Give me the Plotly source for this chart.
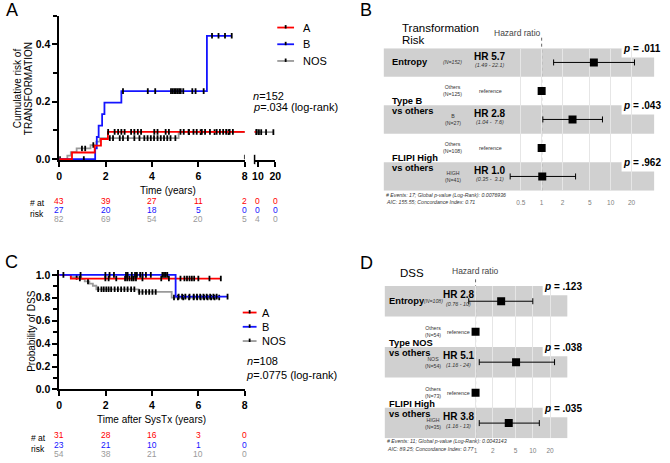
import numpy as np
import plotly.graph_objects as go

W, H = 670, 463
FONT = "Liberation Sans, Arial, Helvetica, sans-serif"
RED, BLUE, GREY = "#ff0000", "#1414ff", "#9a9a9a"

# ---------------- Panel A : cumulative risk of transformation ----------------
a_A_t = [0, 0.55, 1.53, 1.8, 2.1]
a_A_v = [0, 0.023, 0.047, 0.070, 0.095]
a_A_end = 9.3
a_A_cens = [2.11, 2.39, 2.54, 2.68, 2.82, 3.1, 3.24, 3.39, 3.53, 4.1, 4.24, 4.59, 4.73,
            5.23, 5.37, 5.58, 5.79, 5.93, 6.15, 6.29, 6.5, 6.79, 6.93, 7.07, 7.2, 7.35, 7.49, 9.3]
a_B_t = [0, 1.55, 1.62, 1.7, 1.85, 1.95, 2.68, 6.37]
a_B_v = [0, 0.037, 0.077, 0.117, 0.157, 0.197, 0.237, 0.43]
a_B_end = 7.44
a_B_cens = [1.06, 2.75, 3.82, 4.14, 4.82, 4.89, 4.96, 5.03, 5.1, 5.17, 5.24, 5.35, 5.74,
            5.88, 6.23, 6.59, 6.87, 7.15, 7.44]
a_N_t = [0, 0.35, 0.5, 0.75, 1.35, 1.6, 1.75, 5.15]
a_N_v = [0, 0.012, 0.024, 0.037, 0.049, 0.061, 0.073, 0.094]
a_N_end = 18.9
a_N_cens = [0.03, 0.98, 1.12, 1.47, 2.18, 2.32, 2.61, 2.75, 2.96, 3.24, 3.46, 3.67, 3.81,
            3.95, 4.09, 4.24, 4.38, 4.52, 4.66, 4.8, 5.01, 5.6, 6.1, 6.7, 7.3, 9.1, 10.6,
            11.9, 14.7, 18.9]
a_risk_times = [0, 2, 4, 6, 8, 10, 20]
a_risk_A = [43, 39, 27, 11, 2, 0, 0]
a_risk_B = [27, 20, 18, 5, 0, 0, 0]
a_risk_N = [82, 69, 54, 20, 5, 4, 0]

# ---------------- Panel C : disease specific survival ----------------
c_A_t = [0, 0.5]
c_A_v = [1.0, 0.968]
c_A_end = 6.97
c_A_cens = [0.89, 1.99, 2.13, 2.46, 2.84, 2.93, 3.03, 3.13, 3.21, 3.31, 3.59, 4.4, 4.73,
            5.23, 5.4, 5.51, 5.62, 5.72, 5.82, 6.0, 6.48, 6.97]
c_B_t = [0, 5.02]
c_B_v = [1.0, 0.81]
c_B_end = 7.26
c_B_cens = [0.18, 0.92, 1.99, 2.17, 2.36, 2.88, 2.95, 3.13, 3.27, 3.35, 3.49, 3.59, 3.74,
            3.95, 4.45, 4.52, 4.59, 4.66, 5.15, 5.3, 5.44, 5.62, 5.8, 5.94, 6.08, 6.22,
            6.36, 6.51, 6.65, 6.79, 7.26]
c_N_t = [0, 0.5, 0.95, 1.1, 1.3, 1.45, 1.6, 3.42, 4.85]
c_N_v = [1.0, 0.981, 0.962, 0.943, 0.924, 0.905, 0.874, 0.851, 0.802]
c_N_end = 6.9
c_N_cens = [0.75, 1.24, 1.68, 1.82, 1.92, 2.03, 2.13, 2.24, 2.39, 2.53, 2.67, 2.81, 2.95,
            3.1, 3.24, 3.45, 3.59, 3.74, 3.88, 4.02, 4.16, 4.95, 5.12, 5.35, 5.6, 5.8,
            5.95, 6.1, 6.25, 6.4, 6.55, 6.7, 6.9]
c_risk_times = [0, 2, 4, 6, 8]
c_risk_A = [31, 28, 16, 3, 0]
c_risk_B = [23, 21, 10, 1, 0]
c_risk_N = [54, 38, 21, 10, 0]

group_names = ["A", "B", "NOS"]
group_colors = [RED, BLUE, GREY]

# ---------------- Panel B : Cox model, transformation ----------------
b_vars = ["Entropy", "Type B|vs others", "FLIPI High|vs others"]
b_levels = ["", "Others", "B", "Others", "HIGH"]
b_ns = ["(N=152)", "(N=125)", "(N=27)", "(N=108)", "(N=41)"]
b_hr = [5.7, 2.8, 1.02]
b_hr_txt = ["HR 5.7", "HR 2.8", "HR 1.0"]
b_lo = [1.49, 1.04, 0.35]
b_hi = [22.1, 7.6, 3.1]
b_ci_txt = ["(1.49 - 22.1)", "(1.04 -  7.6)", "(0.35 -  3.1)"]
b_p = [".011", ".043", ".962"]
b_ticks = [0.5, 1, 2, 5, 10, 20]
b_foot = ["# Events: 17; Global p-value (Log-Rank): 0.0076936",
          "AIC: 155.55; Concordance Index: 0.71"]

# ---------------- Panel D : Cox model, DSS ----------------
d_vars = ["Entropy", "Type NOS|vs others", "FLIPI High|vs others"]
d_levels = ["", "Others", "NOS", "Others", "HIGH"]
d_ns = ["(N=108)", "(N=54)", "(N=54)", "(N=73)", "(N=35)"]
d_hr = [2.8, 5.1, 3.8]
d_hr_txt = ["HR 2.8", "HR 5.1", "HR 3.8"]
d_lo = [0.76, 1.16, 1.16]
d_hi = [10, 24, 13]
d_ci_txt = ["(0.76 - 10)", "(1.16 - 24)", "(1.16 - 13)"]
d_p = [".123", ".038", ".035"]
d_ticks = [1, 2, 5, 10, 20]
d_foot = ["# Events: 11; Global p-value (Log-Rank): 0.0043143",
          "AIC: 89.25; Concordance Index: 0.77"]

est_rows = [0, 2, 4]
ref_rows = [1, 3]


def X(p):
    return p / W


def Y(p):
    return 1 - p / H


anns = []
shapes = []


def txt(s, x, y, size=10, xanchor="center", yanchor="middle", color="black",
        xref="paper", yref="paper", angle=0, bold=False, italic=False, align="center"):
    if xref == "paper":
        x = X(x)
    if yref == "paper":
        y = Y(y)
    anns.append(dict(text=s, x=x, y=y, xref=xref, yref=yref, xanchor=xanchor,
                     yanchor=yanchor, showarrow=False, textangle=angle, align=align,
                     font=dict(size=size, color=color, family=FONT,
                               weight="bold" if bold else "normal",
                               style="italic" if italic else "normal")))


def step_at(ts, vs, times):
    idx = np.searchsorted(np.array(ts), np.array(times), side="right") - 1
    return np.array(vs)[idx]


fig = go.Figure()

cens_marker = dict(symbol="line-ns", size=4, color="black",
                   line=dict(width=1.8, color="black"))


def km_traces(ts, vs, end, cens, color, xa, ya):
    fig.add_trace(go.Scatter(x=list(ts) + [end], y=list(vs) + [vs[-1]], mode="lines",
                             line=dict(color=color, width=1.8, shape="hv"),
                             xaxis=xa, yaxis=ya, showlegend=False, hoverinfo="skip"))
    fig.add_trace(go.Scatter(x=cens, y=step_at(ts, vs, cens), mode="markers",
                             marker=cens_marker, xaxis=xa, yaxis=ya,
                             showlegend=False, hoverinfo="skip"))


# Panel A curves (main segment + broken segment)
for xa in ["x", "x2"]:
    km_traces(a_N_t, a_N_v, a_N_end, a_N_cens, GREY, xa, "y")
    km_traces(a_B_t, a_B_v, a_B_end, a_B_cens, BLUE, xa, "y")
    km_traces(a_A_t, a_A_v, a_A_end, a_A_cens, RED, xa, "y")

# Panel C curves
km_traces(c_N_t, c_N_v, c_N_end, c_N_cens, GREY, "x3", "y3")
km_traces(c_A_t, c_A_v, c_A_end, c_A_cens, RED, "x3", "y3")
km_traces(c_B_t, c_B_v, c_B_end, c_B_cens, BLUE, "x3", "y3")


# Legend keys (drawn as key glyphs + labels)
def legend_keys(x0, x1, xt, ys):
    for name, col, yy in zip(group_names, group_colors, ys):
        shapes.append(dict(type="line", xref="paper", yref="paper", x0=X(x0), x1=X(x1),
                           y0=Y(yy), y1=Y(yy), line=dict(color=col, width=1.8)))
        xm = (x0 + x1) / 2
        shapes.append(dict(type="line", xref="paper", yref="paper", x0=X(xm), x1=X(xm),
                           y0=Y(yy + 1), y1=Y(yy - 2.5), line=dict(color="black", width=1.8)))
        txt(name, xt, yy, size=11, xanchor="left")


legend_keys(278, 295, 302, [26, 43, 60])
legend_keys(243, 257, 261, [316, 330.5, 345])


# Forest plots
def forest(hr, lo, hi, xa, ya):
    hr = np.array(hr)
    fig.add_trace(go.Scatter(
        x=hr, y=est_rows, mode="markers", xaxis=xa, yaxis=ya, showlegend=False,
        marker=dict(symbol="square", size=8, color="black"),
        error_x=dict(type="data", symmetric=False, array=np.array(hi) - hr,
                     arrayminus=hr - np.array(lo), color="black", thickness=1, width=3),
        hoverinfo="skip"))
    fig.add_trace(go.Scatter(
        x=[1] * len(ref_rows), y=ref_rows, mode="markers", xaxis=xa, yaxis=ya,
        showlegend=False, marker=dict(symbol="square", size=8, color="black"),
        hoverinfo="skip"))


forest(b_hr, b_lo, b_hi, "x4", "y4")
forest(d_hr, d_lo, d_hi, "x5", "y5")


def forest_text(cfg):
    ya = cfg["ya"]
    rh = cfg["rowh"]
    for r in est_rows:
        shapes.append(dict(type="rect", xref="paper", yref=ya, x0=X(cfg["x0"]), x1=X(cfg["x1"]),
                           y0=r - 0.5, y1=r + 0.5, fillcolor="#d0d0d0", line=dict(width=0),
                           layer="below"))
        shapes.append(dict(type="rect", xref="paper", yref=ya, x0=X(cfg["cut"]), x1=X(cfg["x1"] + 1),
                           y0=r - 0.5 - 0.02, y1=r - 0.5 + 9.5 / rh, fillcolor="white",
                           line=dict(width=0), layer="below"))
    shapes.append(dict(type="line", xref=cfg["xa"], yref="paper", x0=1, x1=1,
                       y0=Y(cfg["dot_bot"]), y1=Y(cfg["dot_top"]),
                       line=dict(color="#666666", width=1, dash="dot"), layer="below"))
    # variable names
    for i, v in enumerate(cfg["vars"]):
        parts = v.split("|")
        if len(parts) == 1:
            txt(parts[0], cfg["lab"], est_rows[i], size=9.3, xanchor="left", yref=ya, bold=True)
        else:
            txt(parts[0], cfg["lab"], est_rows[i] - 0.64, size=9.3, xanchor="left", yref=ya, bold=True)
            txt(parts[1], cfg["lab"], est_rows[i] - 0.29, size=9.3, xanchor="left", yref=ya, bold=True)
    # levels and N
    for r in range(5):
        lev, n = cfg["levels"][r], cfg["ns"][r]
        if lev:
            txt(lev + "<br>" + n, cfg["ncol"], r, size=5.2, yref=ya, color="#333333")
        else:
            txt(n, cfg["ncol"], r, size=5.2, yref=ya, color="#333333", italic=True)
    for r in ref_rows:
        txt("reference", cfg["hrcol"], r, size=5.4, yref=ya, color="#333333")
    for i, r in enumerate(est_rows):
        txt(cfg["hr_txt"][i], cfg["hrcol"], r - 0.22, size=10, yref=ya, bold=True)
        txt(cfg["ci_txt"][i], cfg["hrcol"], r + 0.1, size=5.4, yref=ya, color="#333333", italic=True)
        txt("<i>p</i> = " + cfg["p"][i], cfg["pright"], r - 0.48, size=10, xanchor="right",
            yref=ya, bold=True)
    txt(cfg["foot"][0], cfg["x0"], cfg["foot_y"], size=5.2, xanchor="left", color="#333333", italic=True)
    txt(cfg["foot"][1], cfg["x0"], cfg["foot_y"] + 8, size=5.2, xanchor="left", color="#333333", italic=True)


forest_text(dict(ya="y4", xa="x4", rowh=29, x0=386, x1=660, cut=627, dot_top=36, dot_bot=192,
                 vars=b_vars, levels=b_levels, ns=b_ns, lab=392, ncol=456, hrcol=494,
                 hr_txt=b_hr_txt, ci_txt=b_ci_txt, p=b_p, pright=669, foot=b_foot, foot_y=196))
forest_text(dict(ya="y5", xa="x5", rowh=31, x0=387, x1=572, cut=547, dot_top=280, dot_bot=444,
                 vars=d_vars, levels=d_levels, ns=d_ns, lab=389, ncol=436, hrcol=462,
                 hr_txt=d_hr_txt, ci_txt=d_ci_txt, p=d_p, pright=589, foot=d_foot, foot_y=447))

# Forest titles
txt("Transformation", 402, 26, size=11.5, xanchor="left")
txt("Risk", 402, 39, size=11.5, xanchor="left")
txt("Hazard ratio", 522, 32, size=8.5, color="#444444")
txt("DSS", 400, 276, size=11.5, xanchor="left")
txt("Hazard ratio", 479, 274, size=8.5, color="#444444")

# Panel letters
for s, x, y in [("A", 1, 8), ("B", 360, 8), ("C", 0, 265), ("D", 360, 266)]:
    txt(s, x, y, size=18, xanchor="left")

# Axis titles
txt("Cumulative risk of", 15, 88, size=10, angle=-90)
txt("TRANSFORMATION", 26, 88, size=10, angle=-90)
txt("Time (years)", 167, 192, size=10)
txt("Probability of DSS", 29, 335, size=10, angle=-90)
txt("Time after SysTx (years)", 151, 425, size=10)

# Stats text
txt("<i>n</i>=152", 251, 96, size=11, xanchor="left")
txt("<i>p</i>=.034 (log-rank)", 251, 107, size=11, xanchor="left")
txt("<i>n</i>=108<br><i>p</i>=.0775 (log-rank)", 244, 372, size=11, xanchor="left", align="left")

# Numbers at risk
txt("# at", 25, 205, size=8.5, xanchor="left")
txt("risk", 25, 216, size=8.5, xanchor="left")
for vals, col, yy in [(a_risk_A, RED, 202), (a_risk_B, BLUE, 211.5), (a_risk_N, GREY, 221)]:
    for t, v in zip(a_risk_times, vals):
        txt(str(v), t, yy, size=8.5, color=col, xref="x" if t <= 8 else "x2")
txt("# at", 26, 444, size=8.5, xanchor="left")
txt("risk", 26, 455, size=8.5, xanchor="left")
for vals, col, yy in [(c_risk_A, RED, 441), (c_risk_B, BLUE, 450.5), (c_risk_N, GREY, 459.5)]:
    for t, v in zip(c_risk_times, vals):
        txt(str(v), t, yy, size=8.5, color=col, xref="x3")

# axis break marks
shapes.append(dict(type="line", xref="x", yref="paper", x0=8, x1=8, y0=Y(160), y1=Y(155.5),
                   line=dict(color="black", width=1.5)))
shapes.append(dict(type="line", xref="x2 domain", yref="paper", x0=0, x1=0, y0=Y(165), y1=Y(155.5),
                   line=dict(color="black", width=1.5)))

ax = dict(showline=True, linecolor="black", linewidth=1.5, ticks="outside", ticklen=5,
          tickwidth=1.5, tickcolor="black", showgrid=False, zeroline=False,
          tickfont=dict(size=10.5, family=FONT, weight="bold", color="black"),
          layer="below traces", fixedrange=True)
minor = dict(ticks="outside", ticklen=4, tickwidth=1.5, tickcolor="black")
fax = dict(type="log", showline=False, ticks="", zeroline=False, showgrid=True,
           gridcolor="#e6e6e6", gridwidth=1, ticklabelstandoff=7,
           tickfont=dict(size=6.5, family=FONT, color="#808080"), fixedrange=True)
hid = dict(visible=False, fixedrange=True)

fig.update_layout(
    width=W, height=H, margin=dict(l=0, r=0, t=0, b=0),
    paper_bgcolor="white", plot_bgcolor="rgba(0,0,0,0)",
    font=dict(family=FONT, color="black"), showlegend=False, hovermode=False,
    xaxis=dict(ax, domain=[X(57), X(245)], range=[0, 8], tickvals=[0, 2, 4, 6, 8], anchor="y"),
    xaxis2=dict(ax, domain=[X(255), X(276)], range=[8.1, 20], tickvals=[10, 20], anchor="y"),
    yaxis=dict(ax, domain=[Y(161), Y(14)], range=[-0.004, 0.5], tickvals=[0, 0.2, 0.4],
               tickformat=".1f", minor=dict(minor, tickvals=[0.1, 0.3, 0.5]), anchor="x"),
    xaxis3=dict(ax, domain=[X(57), X(245)], range=[0, 8], tickvals=[0, 2, 4, 6, 8], anchor="y3"),
    yaxis3=dict(ax, domain=[Y(394.3), Y(273)], range=[0, 1.04],
                tickvals=[0, 0.2, 0.4, 0.6, 0.8, 1.0], tickformat=".1f",
                minor=dict(minor, tickvals=[0.1, 0.3, 0.5, 0.7, 0.9]), anchor="x3"),
    xaxis4=dict(fax, domain=[X(386), X(660)], range=[-2.286, 1.629], tickvals=b_ticks,
                ticktext=[str(t) for t in b_ticks], anchor="y4"),
    yaxis4=dict(hid, domain=[Y(192), Y(47)], range=[4.5, -0.5], anchor="x4"),
    xaxis5=dict(fax, domain=[X(387), X(572)], range=[-1.586, 1.603], tickvals=d_ticks,
                ticktext=[str(t) for t in d_ticks], anchor="y5"),
    yaxis5=dict(hid, domain=[Y(444), Y(289)], range=[4.5, -0.5], anchor="x5"),
    annotations=anns, shapes=shapes,
)

fig.write_html("out.html", config={"displayModeBar": False, "responsive": False},
               post_script="document.body.style.margin='0px';document.body.style.overflow='hidden';")
